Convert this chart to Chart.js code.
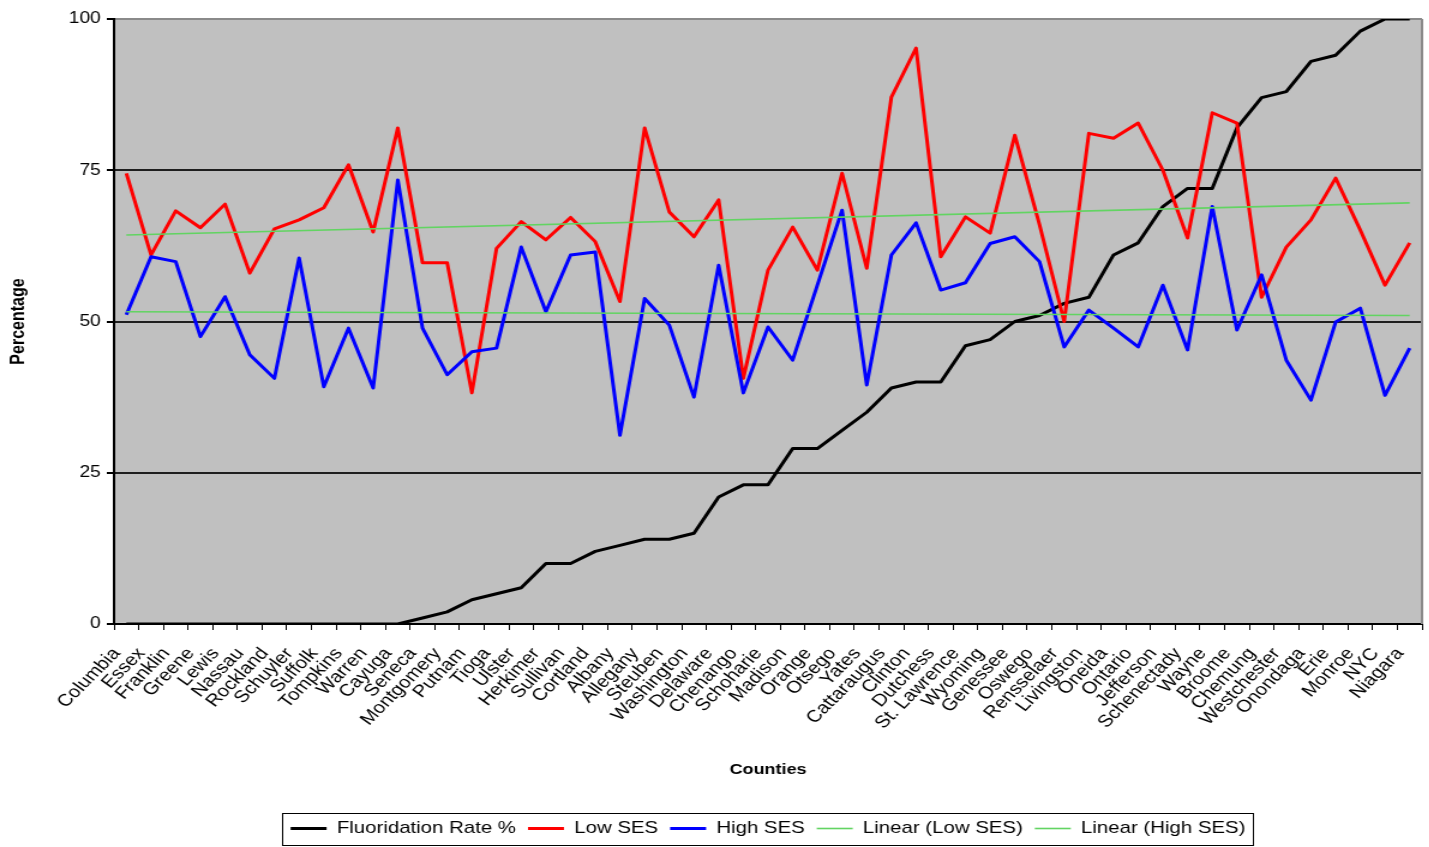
<!DOCTYPE html>
<html><head><meta charset="utf-8">
<script src="https://cdn.jsdelivr.net/npm/chart.js@4"></script>
<style>
html,body{margin:0;padding:0;background:#fff;overflow:hidden;}
#wrap{width:1429px;height:847px;overflow:hidden;}
canvas{display:block;transform:scaleX(1.2);transform-origin:0 0;}
</style></head><body>
<div id="wrap"><canvas id="c" width="1191" height="847"></canvas></div>
<script>
const counties = ['Columbia','Essex','Franklin','Greene','Lewis','Nassau','Rockland','Schuyler','Suffolk','Tompkins','Warren','Cayuga','Seneca','Montgomery','Putnam','Tioga','Ulster','Herkimer','Sullivan','Cortland','Albany','Allegany','Steuben','Washington','Delaware','Chenango','Schoharie','Madison','Orange','Otsego','Yates','Cattaraugus','Clinton','Dutchess','St. Lawrence','Wyoming','Genessee','Oswego','Rensselaer','Livingston','Oneida','Ontario','Jefferson','Schenectady','Wayne','Broome','Chemung','Westchester','Onondaga','Erie','Monroe','NYC','Niagara'];
const fluoridationRate = [0,0,0,0,0,0,0,0,0,0,0,0,1,2,4,5,6,10,10,12,13,14,14,15,21,23,23,29,29,32,35,39,40,40,46,47,50,51,53,54,61,63,69,72,72,82,87,88,93,94,98,100,100];
const lowSES = [74.5,61,68.3,65.5,69.4,58,65.3,66.8,68.8,75.9,64.8,82,59.7,59.7,38.2,62.1,66.5,63.5,67.2,63.2,53.3,82,68.1,64,70.1,40.6,58.5,65.6,58.5,74.5,58.8,87.1,95.2,60.7,67.3,64.6,80.8,66,50,81.1,80.3,82.8,75,63.8,84.5,82.8,54,62.3,66.8,73.7,65.1,56,63];
const highSES = [51.1,60.7,59.9,47.5,54.1,44.5,40.6,60.5,39.2,48.9,39,73.4,48.9,41.2,45,45.6,62.3,51.6,61,61.5,31.2,53.8,49.4,37.5,59.3,38.2,49.1,43.6,56,68.4,39.5,61,66.3,55.2,56.4,62.9,64,59.9,45.8,51.9,48.9,45.8,56,45.3,69,48.6,57.7,43.6,37,49.9,52.2,37.8,45.6];
const lowSESTrendEnds = [64.3, 69.6];
const highSESTrendEnds = [51.6, 51.0];
const yTicks = [0, 25, 50, 75, 100];

function endsToSeries(ends) {
  return counties.map((_, i) => i === 0 ? ends[0] : (i === counties.length - 1 ? ends[1] : null));
}

Chart.defaults.font.family = '"Liberation Sans", Arial, sans-serif';
Chart.defaults.color = '#000';

const plotDecor = {
  id: 'plotDecor',
  beforeDraw(chart) {
    const {ctx, chartArea: a} = chart;
    ctx.save();
    ctx.fillStyle = '#C0C0C0';
    ctx.fillRect(a.left, a.top, a.right - a.left, a.bottom - a.top);
    ctx.restore();
  },
  beforeDatasetsDraw(chart) {
    const {ctx, chartArea: a} = chart;
    ctx.save();
    ctx.strokeStyle = '#8a8a8a';
    ctx.lineWidth = 2;
    ctx.beginPath();
    ctx.moveTo(a.right, a.top);
    ctx.lineTo(a.right, a.bottom);
    ctx.stroke();
    ctx.restore();
  },
  afterDraw(chart) {
    const lg = chart.legend;
    if (!lg || !lg.legendHitBoxes || !lg.legendHitBoxes.length) return;
    const hb = lg.legendHitBoxes;
    const l = Math.min(...hb.map(h => h.left)) - 7;
    const r = Math.max(...hb.map(h => h.left + h.width)) + 6;
    const ctx = chart.ctx;
    ctx.save();
    ctx.strokeStyle = '#000';
    ctx.lineWidth = 1;
    ctx.strokeRect(Math.round(l) + 0.5, Math.round(lg.top + 3) + 0.5, Math.round(r - l), Math.round(lg.height - 5));
    ctx.restore();
  }
};

new Chart(document.getElementById('c'), {
  type: 'line',
  data: {
    labels: counties,
    datasets: [
      {label: 'Fluoridation Rate %', data: fluoridationRate, borderColor: '#000000', backgroundColor: '#000000', borderWidth: 3, order: 3},
      {label: 'Low SES', data: lowSES, borderColor: '#FF0000', backgroundColor: '#FF0000', borderWidth: 3, order: 2},
      {label: 'High SES', data: highSES, borderColor: '#0000FF', backgroundColor: '#0000FF', borderWidth: 3, order: 1},
      {label: 'Linear (Low SES)', data: endsToSeries(lowSESTrendEnds), borderColor: '#62D462', backgroundColor: '#62D462', borderWidth: 1.6, spanGaps: true, order: 0},
      {label: 'Linear (High SES)', data: endsToSeries(highSESTrendEnds), borderColor: '#62D462', backgroundColor: '#62D462', borderWidth: 1.6, spanGaps: true, order: 0}
    ]
  },
  options: {
    responsive: false,
    devicePixelRatio: 1,
    animation: false,
    elements: {
      point: {radius: 0, hoverRadius: 0},
      line: {tension: 0, borderJoinStyle: 'round', fill: false}
    },
    layout: {padding: {left: 0, right: 6, top: 19, bottom: 0}},
    plugins: {
      tooltip: {enabled: false},
      legend: {
        position: 'bottom',
        fullSize: false,
        labels: {
          usePointStyle: true,
          pointStyle: 'line',
          pointStyleWidth: 30,
          padding: 10,
          font: {size: 17},
          color: '#000',
          sort: (a, b) => a.datasetIndex - b.datasetIndex
        }
      }
    },
    scales: {
      x: {
        offset: true,
        afterFit(scale) { scale.height = 186; scale.paddingRight = 0; scale.paddingLeft = 0; },
        grid: {offset: true, drawOnChartArea: false, drawTicks: true, tickLength: 6, color: '#000', lineWidth: 1},
        border: {display: true, color: '#000', width: 2},
        ticks: {autoSkip: false, minRotation: 50, maxRotation: 50, padding: 14, labelOffset: -8, font: {size: 17}, color: '#000'},
        title: {display: true, text: 'Counties', font: {size: 15, weight: 'bold'}, color: '#000', padding: {top: 0, bottom: 31}}
      },
      y: {
        min: 0,
        max: 100,
        afterFit(scale) { scale.width = 95; },
        afterBuildTicks(scale) { scale.ticks = yTicks.map(v => ({value: v})); },
        grid: {
          drawTicks: true,
          tickLength: 6,
          tickColor: '#000',
          lineWidth: 2,
          color: (c) => (c.tick && c.tick.value === 100) ? '#8a8a8a' : '#1e1e1e'
        },
        border: {display: true, color: '#000', width: 2},
        ticks: {padding: 5, font: {size: 16}, color: '#000'},
        title: {display: true, text: 'Percentage', font: {size: 16, weight: 'bold'}, color: '#000', padding: {top: 6, bottom: 0}}
      }
    }
  },
  plugins: [plotDecor]
});
</script>
</body></html>
